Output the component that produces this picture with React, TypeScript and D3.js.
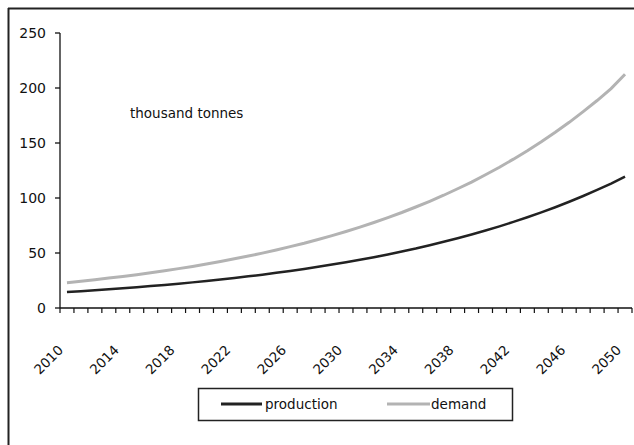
import React from "react";
import * as d3 from "d3";

const years: number[] = d3.range(2010, 2051);
const production: number[] = [
  14.5, 15.3, 16.1, 17.0, 17.9, 18.9, 19.9, 21.0, 22.1, 23.3,
  24.6, 25.9, 27.3, 28.8, 30.3, 32.0, 33.7, 35.5, 37.4, 39.5,
  41.6, 43.9, 46.2, 48.7, 51.4, 54.1, 57.1, 60.2, 63.4, 66.8,
  70.4, 74.2, 78.3, 82.5, 86.9, 91.6, 96.6, 101.8, 107.3, 113.1,
  119.5,
];
const demand: number[] = [
  23.0, 24.3, 25.7, 27.2, 28.7, 30.3, 32.0, 33.9, 35.8, 37.8,
  40.0, 42.3, 44.7, 47.2, 49.9, 52.8, 55.8, 58.9, 62.3, 65.8,
  69.6, 73.5, 77.7, 82.2, 86.8, 91.8, 97.0, 102.5, 108.4, 114.5,
  121.1, 128.0, 135.3, 143.0, 151.1, 159.7, 168.8, 178.5, 188.6, 199.4,
  212.5,
];
const yTicks: number[] = [0, 50, 100, 150, 200, 250];
const xLabelYears: number[] = [2010, 2014, 2018, 2022, 2026, 2030, 2034, 2038, 2042, 2046, 2050];
const unitLabel = "thousand tonnes";
const seriesNames = ["production", "demand"];

export default function App() {
  const W = 634, H = 445;
  const left = 60, right = 632, top = 33, bottom = 308;
  const x = d3.scaleBand<number>().domain(years).range([left, right]);
  const y = d3.scaleLinear().domain([0, 250]).range([bottom, top]);
  const cx = (yr: number) => (x(yr) ?? 0) + x.bandwidth() / 2;
  const line = d3.line<number>().x((_, i) => cx(years[i])).y((v) => y(v));
  const font = "'DejaVu Sans', sans-serif";
  const boundaries = d3.range(years.length + 1).map((i) => left + i * x.step());

  return (
    <svg width={W} height={H} style={{ position: "absolute", left: 0, top: 0, background: "#fff" }}>
      <line x1={8} y1={8.5} x2={W} y2={8.5} stroke="#222" strokeWidth={2} />
      <line x1={8.5} y1={8} x2={8.5} y2={H} stroke="#222" strokeWidth={2} />

      {/* y axis */}
      <line x1={left} y1={top} x2={left} y2={bottom} stroke="#111" strokeWidth={1.3} />
      {yTicks.map((t) => (
        <g key={t}>
          <line x1={left - 5} x2={left} y1={y(t)} y2={y(t)} stroke="#111" strokeWidth={1.3} />
          <text x={46} y={y(t) + 5} textAnchor="end" fontFamily={font} fontSize={14} fill="#111">
            {t}
          </text>
        </g>
      ))}

      {/* x axis */}
      <line x1={left} y1={bottom} x2={right} y2={bottom} stroke="#111" strokeWidth={1.3} />
      {boundaries.map((bx, i) => (
        <line key={i} x1={bx} x2={bx} y1={bottom} y2={bottom + 5} stroke="#111" strokeWidth={1.2} />
      ))}
      {xLabelYears.map((yr) => {
        const ax = cx(yr) - 3;
        const ay = 351;
        return (
          <text
            key={yr}
            x={ax}
            y={ay}
            textAnchor="end"
            transform={`rotate(-45 ${ax} ${ay})`}
            fontFamily={font}
            fontSize={13.5}
            fill="#111"
          >
            {yr}
          </text>
        );
      })}

      <text x={130} y={118} fontFamily={font} fontSize={13.5} fill="#111">
        {unitLabel}
      </text>

      <path d={line(demand) ?? ""} fill="none" stroke="#b3b3b3" strokeWidth={3} />
      <path d={line(production) ?? ""} fill="none" stroke="#222" strokeWidth={2.5} />

      {/* legend */}
      <rect x={198.5} y={388.5} width={314} height={32} fill="#fff" stroke="#222" strokeWidth={1.5} />
      <line x1={221} x2={262} y1={404} y2={404} stroke="#222" strokeWidth={3} />
      <text x={265} y={409} fontFamily={font} fontSize={13.5} fill="#111">
        {seriesNames[0]}
      </text>
      <line x1={387} x2={430} y1={404} y2={404} stroke="#b3b3b3" strokeWidth={3} />
      <text x={431} y={409} fontFamily={font} fontSize={13.5} fill="#111">
        {seriesNames[1]}
      </text>
    </svg>
  );
}
